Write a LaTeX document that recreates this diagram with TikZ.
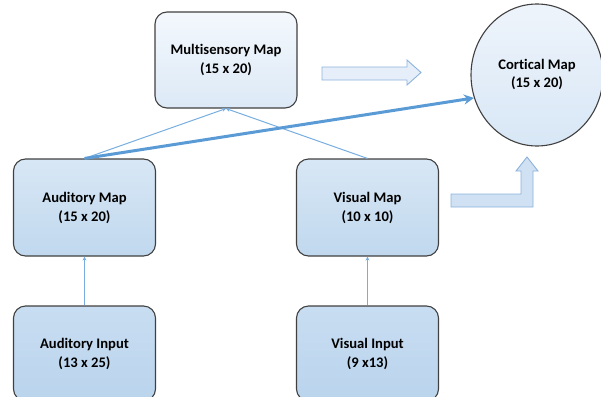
\documentclass[tikz,border=0pt]{standalone}
\usepackage{fontspec}
\setmainfont{Carlito}[Ligatures=NoCommon]
\usetikzlibrary{shapes.geometric,arrows.meta}
\definecolor{boxline}{HTML}{404040}
\definecolor{linkblue}{HTML}{5B9BD5}
\definecolor{thinblue}{HTML}{78AEDF}
\definecolor{bafill}{HTML}{E6EFF9}
\definecolor{baline}{HTML}{8CB2DC}
\definecolor{bentfill}{HTML}{CFE1F3}
\definecolor{mstop}{HTML}{F4F8FD}
\definecolor{msbot}{HTML}{DCE9F6}
\definecolor{midtop}{HTML}{D8E7F5}
\definecolor{midbot}{HTML}{C0D8EE}
\definecolor{lowtop}{HTML}{C8DDF1}
\definecolor{lowbot}{HTML}{BAD4ED}
\definecolor{cmtop}{HTML}{EEF4FB}
\definecolor{cmbot}{HTML}{D8E7F6}
\tikzset{
  lbl/.style={font=\bfseries\fontsize{14.6}{19}\selectfont, align=center, text=black},
  anybox/.style={lbl, draw=boxline, line width=1.1pt, rounded corners=12pt, rectangle, minimum width=142pt},
  topbox/.style={anybox, minimum height=96pt, top color=mstop, bottom color=msbot},
  midbox/.style={anybox, minimum height=97pt, top color=midtop, bottom color=midbot},
  lowbox/.style={anybox, minimum height=95pt, top color=lowtop, bottom color=lowbot},
  cortex/.style={lbl, draw=boxline, line width=1.1pt, ellipse, minimum width=132pt, minimum height=142pt,
     top color=cmtop, bottom color=cmbot},
  thinlink/.style={draw=thinblue, line width=1pt, -{Stealth[length=4pt,width=4pt]}},
  thicklink/.style={draw=linkblue, line width=3pt, -{Stealth[length=10pt,width=10pt]}},
  blockarrow/.style={fill=bafill, draw=baline, line width=0.9pt},
  bentarrow/.style={fill=bentfill, draw=baline, line width=0.9pt}
}
\begin{document}
\begin{tikzpicture}[x=1pt,y=-1pt]
\useasboundingbox (0,0) rectangle (601,396);
\clip (0,0) rectangle (601,396);
\node[topbox] (ms) at (226,60) {Multisensory Map\\(15 x 20)};
\node[midbox] (am) at (84.5,207.5) {Auditory Map\\(15 x 20)};
\node[midbox] (vm) at (367.5,207.5) {Visual Map\\(10 x 10)};
\node[lowbox] (ai) at (84.5,353.5) {Auditory Input\\(13 x 25)};
\node[lowbox] (vi) at (367.5,353.5) {Visual Input\\(9 x13)};
\node[cortex] (cm) at (537,75) {\raisebox{-9pt}{\begin{tabular}{@{}c@{}}Cortical Map\\[-1pt](15 x 20)\end{tabular}}};
% block arrow right
\draw[blockarrow] (322,67) -- (407,67) -- (407,60) -- (421,72.5) -- (407,85) -- (407,80) -- (322,80) -- cycle;
% bent arrow
\draw[bentarrow] (451,194) -- (521,194) -- (521,171) -- (516,171) -- (527,157) -- (538,171) -- (533,171) -- (533,207) -- (451,207) -- cycle;
% connectors
\draw[thinlink] (am.north) -- (ms.south);
\draw[thinlink] (vm.north) -- (ms.south);
\draw[thicklink] (am.north) -- (cm.200);
\draw[thinlink] (ai.north) -- (am.south);
\draw[thinlink] (vi.north) -- (vm.south);
\end{tikzpicture}
\end{document}
